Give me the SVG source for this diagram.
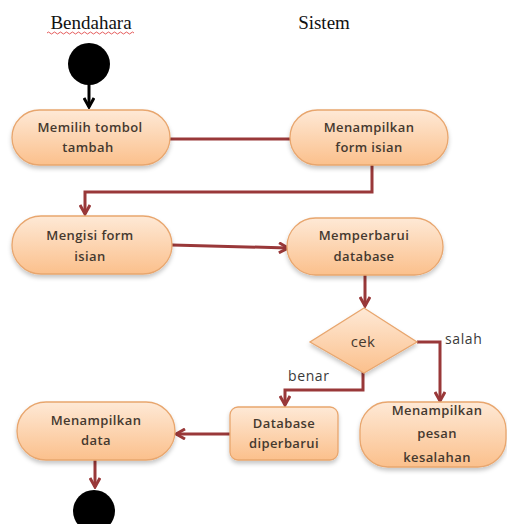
<svg xmlns="http://www.w3.org/2000/svg" width="507" height="524" viewBox="0 0 507 524">
<defs>
<linearGradient id="g" x1="0" y1="0" x2="0" y2="1">
<stop offset="0" stop-color="#fee9d6"/>
<stop offset="1" stop-color="#fbc08c"/>
</linearGradient>
<filter id="sh" x="-10%" y="-10%" width="120%" height="140%">
<feDropShadow dx="0" dy="3" stdDeviation="2" flood-color="#000" flood-opacity="0.22"/>
</filter>
<marker id="ar" viewBox="0 0 12 12" refX="10" refY="6" markerWidth="12" markerHeight="12" markerUnits="userSpaceOnUse" orient="auto">
<path d="M1,1 L10,6 L1,11" fill="none" stroke="#993839" stroke-width="3"/>
</marker>
<marker id="arb" viewBox="0 0 12 12" refX="10" refY="6" markerWidth="12" markerHeight="12" markerUnits="userSpaceOnUse" orient="auto">
<path d="M1,1 L10,6 L1,11" fill="none" stroke="#000" stroke-width="3"/>
</marker>
</defs>
<style>
.n{fill:url(#g);stroke:#e8a66e;stroke-width:1.3;filter:url(#sh)}
.t{font-family:"Open Sans","Liberation Sans",sans-serif;font-size:13px;font-weight:600;fill:#45392f;text-anchor:middle;letter-spacing:0.4px}
.l{font-family:"Open Sans","Liberation Sans",sans-serif;font-size:14px;fill:#3a3a3a;letter-spacing:0.6px}
.c{fill:none;stroke:#993839;stroke-width:3}
.h{font-family:"Liberation Serif",serif;font-size:19px;fill:#111;text-anchor:middle}
</style>
<text class="h" x="91" y="29">Bendahara</text>
<path d="M47,33 q1.5,-2 3,0 t3,0 t3,0 t3,0 t3,0 t3,0 t3,0 t3,0 t3,0 t3,0 t3,0 t3,0 t3,0 t3,0 t3,0 t3,0 t3,0 t3,0 t3,0 t3,0 t3,0 t3,0 t3,0 t3,0 t3,0 t3,0 t3,0 t3,0 t3,0" fill="none" stroke="#d33" stroke-width="0.8"/>
<text class="h" x="324" y="29">Sistem</text>
<g id="connectors">
<line x1="89" y1="84" x2="89" y2="107" stroke="#000" stroke-width="3" marker-end="url(#arb)"/>
<line class="c" x1="170" y1="139" x2="290" y2="139"/>
<polyline class="c" points="372,165 372,192 85,192 85,214" marker-end="url(#ar)"/>
<line class="c" x1="172" y1="245" x2="288" y2="248" marker-end="url(#ar)"/>
<line class="c" x1="365" y1="275" x2="365" y2="306" marker-end="url(#ar)"/>
<polyline class="c" points="417,342 440,342 440,401" marker-end="url(#ar)"/>
<polyline class="c" points="363,372 363,390 285,390 285,405" marker-end="url(#ar)"/>
<line class="c" x1="230" y1="434" x2="176" y2="434" marker-end="url(#ar)"/>
<line class="c" x1="95" y1="460" x2="95" y2="487" marker-end="url(#ar)"/>
</g>
<g id="start"><circle cx="89" cy="64" r="21" fill="#000"/></g>
<g id="n1"><rect class="n" x="12" y="110" width="158" height="55" rx="27.5"/>
<text class="t" x="90" y="132">Memilih tombol</text><text class="t" x="88" y="152">tambah</text></g>
<g id="n2"><rect class="n" x="290" y="110" width="158" height="55" rx="27.5"/>
<text class="t" x="369" y="132">Menampilkan</text><text class="t" x="369" y="152">form isian</text></g>
<g id="n3"><rect class="n" x="12" y="216" width="160" height="58" rx="29"/>
<text class="t" x="90" y="240">Mengisi form</text><text class="t" x="90" y="261">isian</text></g>
<g id="n4"><rect class="n" x="287" y="218" width="156" height="57" rx="28.5"/>
<text class="t" x="364" y="240">Memperbarui</text><text class="t" x="364" y="261">database</text></g>
<g id="cek"><polygon class="n" points="364,308 417,342 364,373 310,342"/>
<text class="t" x="363" y="347" style="font-size:15px;font-weight:500">cek</text></g>
<text class="l" x="445" y="344">salah</text>
<text class="l" x="288" y="381">benar</text>
<g id="n5"><rect class="n" x="230" y="407" width="108" height="53" rx="8"/>
<text class="t" x="284" y="428">Database</text><text class="t" x="284" y="448">diperbarui</text></g>
<g id="n6"><rect class="n" x="360" y="402" width="146" height="65" rx="28"/>
<text class="t" x="437" y="415">Menampilkan</text><text class="t" x="437" y="438">pesan</text><text class="t" x="437" y="462">kesalahan</text></g>
<g id="n7"><rect class="n" x="17" y="402" width="158" height="58" rx="29"/>
<text class="t" x="96" y="425">Menampilkan</text><text class="t" x="96" y="445">data</text></g>
<g id="end"><circle cx="94" cy="511" r="21" fill="#000"/></g>
</svg>
